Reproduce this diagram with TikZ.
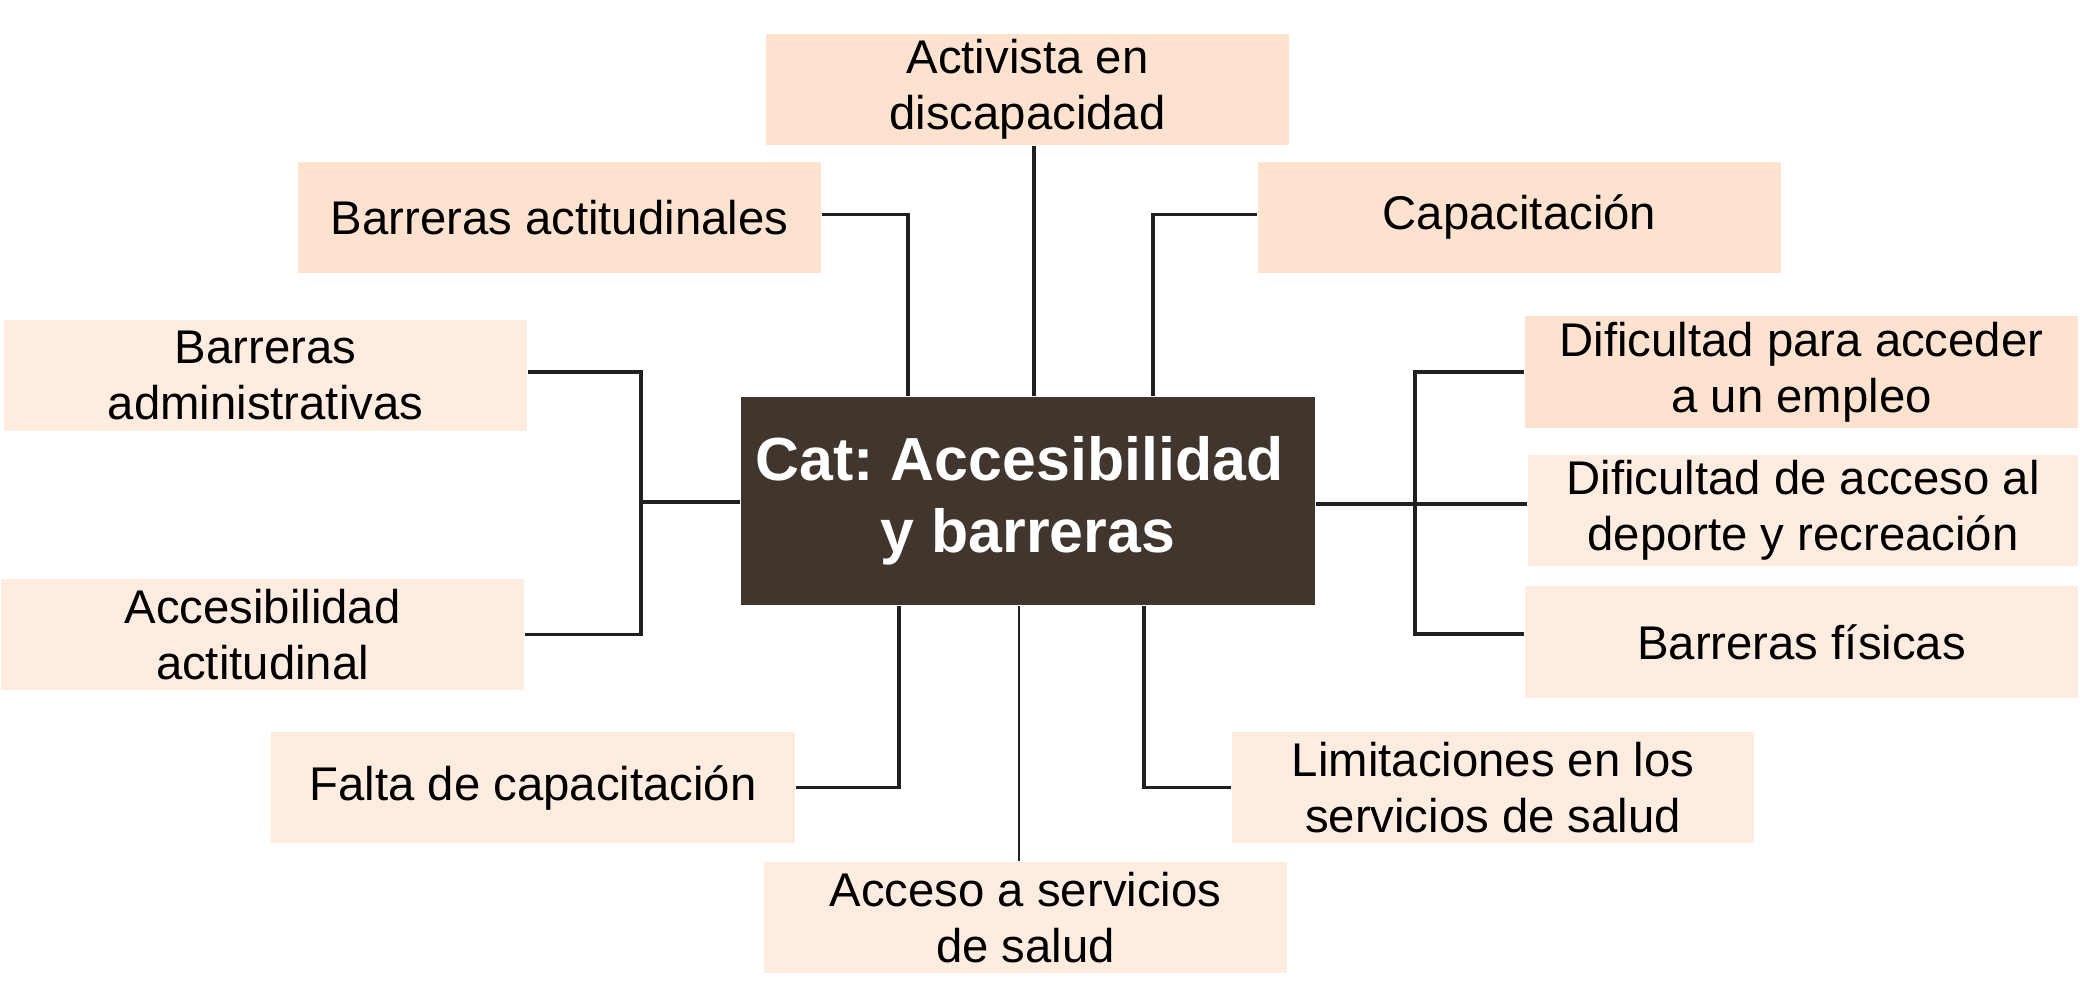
\documentclass[tikz,border=0pt]{standalone}
\usepackage{fontspec}
\setmainfont{Liberation Sans}
\definecolor{peachA}{RGB}{253,227,207}
\definecolor{peachB}{RGB}{254,236,224}
\definecolor{darkbox}{RGB}{64,54,45}
\definecolor{linec}{RGB}{35,31,32}
\frenchspacing
\begin{document}
\begin{tikzpicture}[x=0.01cm,y=-0.01cm,
  leaf/.style={rectangle, inner sep=0pt, minimum width=5.23cm, minimum height=1.11cm,
    align=center, font=\fontsize{13.45}{15.9}\selectfont, text=black},
  leafA/.style={leaf, fill=peachA},
  leafB/.style={leaf, fill=peachB},
  hub/.style={rectangle, inner sep=0pt, fill=darkbox, minimum width=5.74cm, minimum height=2.08cm,
    align=center, text=white, font=\fontsize{17.3}{20.5}\selectfont\bfseries},
  conn/.style={draw=linec, line width=0.95pt},
  connthin/.style={draw=linec, line width=0.7pt}]
\useasboundingbox (0,0) rectangle (2080,1004);

\node[hub] (ctr) at (1028,501) {Cat: Accesibilidad\rule{0.278em}{0pt}\\y barreras};

\node[leafA] (act) at (1027.5,89.5) {Activista en\\discapacidad};
\node[leafA] (bact) at (559.5,217.5) {Barreras actitudinales};
\node[leafA] (cap) at (1519.5,217.5) {Capacitación};
\node[leafB] (badm) at (265.5,375.5) {Barreras\\administrativas};
\node[leafB] (accact) at (262.5,634.5) {Accesibilidad\\actitudinal};
\node[leafA, minimum width=5.53cm, minimum height=1.12cm] (dif1) at (1801.5,372) {Dificultad para acceder\\a un empleo};
\node[leafB, minimum width=5.50cm] (dif2) at (1803,510.5) {Dificultad de acceso al\\deporte y recreación};
\node[leafB, minimum width=5.53cm, minimum height=1.12cm] (bfis) at (1801.5,642) {Barreras físicas};
\node[leafB, minimum width=5.24cm] (falta) at (533,787.5) {Falta de capacitación};
\node[leafB, minimum width=5.22cm] (lim) at (1493,787.5) {Limitaciones en los\\servicios de salud};
\node[leafB] (acc) at (1025.5,917.5) {Acceso a servicios\\de salud};

\coordinate (lbus) at (641,502);
\coordinate (rbus) at (1415,504);

% top
\draw[conn] ([xshift=0.065cm]act.south) -- ([xshift=0.065cm]act.south |- ctr.north);
\draw[conn] ([yshift=0.03cm]bact.east) -| ([xshift=-1.20cm]ctr.north);
\draw[conn] ([yshift=0.03cm]cap.west) -| ([xshift=1.25cm]ctr.north);
% left
\draw[conn] ([yshift=0.035cm]badm.east) -| (lbus) |- (accact.east);
\draw[conn] (lbus) -- (lbus -| ctr.west);
% right
\draw[conn] (dif1.west) -| (rbus) |- ([yshift=0.08cm]bfis.west);
\draw[conn] (rbus -| ctr.east) -- (rbus -| dif2.west);
% bottom
\draw[conn] (falta.east) -| ([xshift=-1.29cm]ctr.south);
\draw[connthin] ([xshift=-0.065cm]acc.north) -- ([xshift=-0.065cm]acc.north |- ctr.south);
\draw[conn] (lim.west) -| ([xshift=1.16cm]ctr.south);
\end{tikzpicture}
\end{document}
